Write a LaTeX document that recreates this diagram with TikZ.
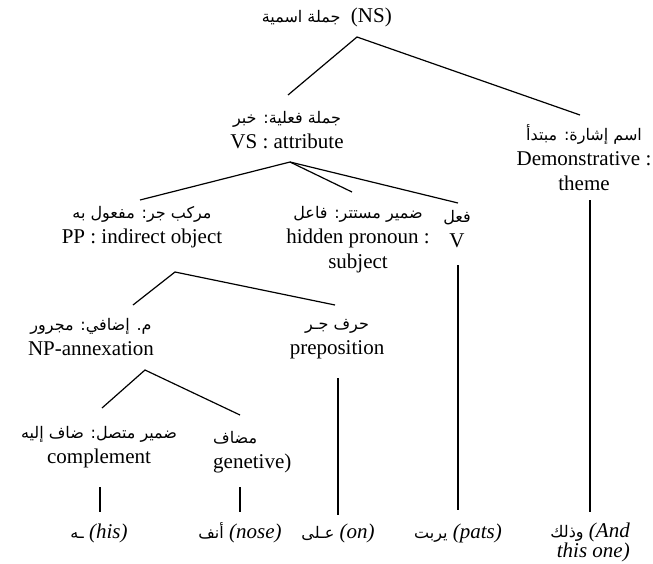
\documentclass[tikz,border=0pt]{standalone}
\usepackage{fontspec}
\setmainfont{Liberation Serif}
\newfontfamily\arfont[Script=Arabic]{DejaVu Sans}
\TeXXeTstate=1
\newcommand{\AR}[1]{{\arfont\fontsize{16}{25}\selectfont\beginR #1\endR}}
\begin{document}
\begin{tikzpicture}[x=1pt,y=-1pt,
  lbl/.style={align=center,font=\fontsize{21}{25}\selectfont,inner sep=0pt},
  br/.style={line width=1.2pt}]
\useasboundingbox (0,0) rectangle (653,563);
% text nodes
\node[lbl,anchor=east] (root) at (392,17) {\AR{جملة اسمية}\enspace(NS)};
\node[lbl] (vs) at (287,130.5) {\AR{جملة فعلية: خبر}\\VS : attribute};
\node[lbl] (demo) at (584,158) {\AR{اسم إشارة: مبتدأ}\\Demonstrative :\\theme};
\node[lbl] (pp) at (142,227.5) {\AR{مركب جر: مفعول به}\\PP : indirect object};
\node[lbl] (hid) at (358,240) {\AR{ضمير مستتر: فاعل}\\hidden pronoun :\\subject};
\node[lbl] (v) at (457,229.5) {\AR{فعل}\\V};
\node[lbl] (np) at (91,337.5) {\AR{م. إضافي: مجرور}\\NP-annexation};
\node[lbl] (prep) at (337,339.5) {\AR{حرف جـر}\\preposition};
\node[lbl] (comp) at (99,447.5) {\AR{ضمير متصل: ضاف إليه}\\complement};
\node[lbl,align=left,anchor=west] (gen) at (213,452.5) {\AR{مضاف}\\genetive)};
\node[lbl,anchor=base] (w1) at (99,538) {\AR{ـه} \textit{(his)}};
\node[lbl,anchor=base] (w2) at (240,538) {\AR{أنف} \textit{(nose)}};
\node[lbl,anchor=base] (w3) at (338,538) {\AR{عـلى} \textit{(on)}};
\node[lbl,anchor=base] (w4) at (458,538) {\AR{يربت} \textit{(pats)}};
\node[lbl,align=right,anchor=north east] (w5) at (630,523) {\AR{وذلك} \textit{(And}\\[-5pt]\textit{this one)}};
% branch points
\coordinate (rootB) at (357,37);
\coordinate (vsT) at (288,95);
\coordinate (demoT) at (580,115);
\coordinate (vsB) at (290,162);
\coordinate (ppT) at (140,200);
\coordinate (hidT) at (352,192);
\coordinate (vT) at (458,203);
\coordinate (ppB) at (175,272);
\coordinate (npT) at (133,305);
\coordinate (prepT) at (335,305);
\coordinate (npB) at (145,370);
\coordinate (compT) at (102,408);
\coordinate (genT) at (240,415);
\coordinate (compB) at (100,487);
\coordinate (compE) at (100,512);
\coordinate (genB) at (240,487);
\coordinate (genE) at (240,512);
\coordinate (prepB) at (338,378);
\coordinate (prepE) at (338,515);
\coordinate (vB) at (458,265);
\coordinate (vE) at (458,510);
\coordinate (demoB) at (590,200);
\coordinate (demoE) at (590,512);
% connectors
\draw[br] (vsT) -- (rootB) -- (demoT);
\draw[br] (ppT) -- (vsB) -- (vT);
\draw[br] (vsB) -- (hidT);
\draw[br] (npT) -- (ppB) -- (prepT);
\draw[br] (compT) -- (npB) -- (genT);
\draw[br] (compB) -- (compE);
\draw[br] (genB) -- (genE);
\draw[br] (prepB) -- (prepE);
\draw[br] (vB) -- (vE);
\draw[br] (demoB) -- (demoE);
\end{tikzpicture}
\end{document}
